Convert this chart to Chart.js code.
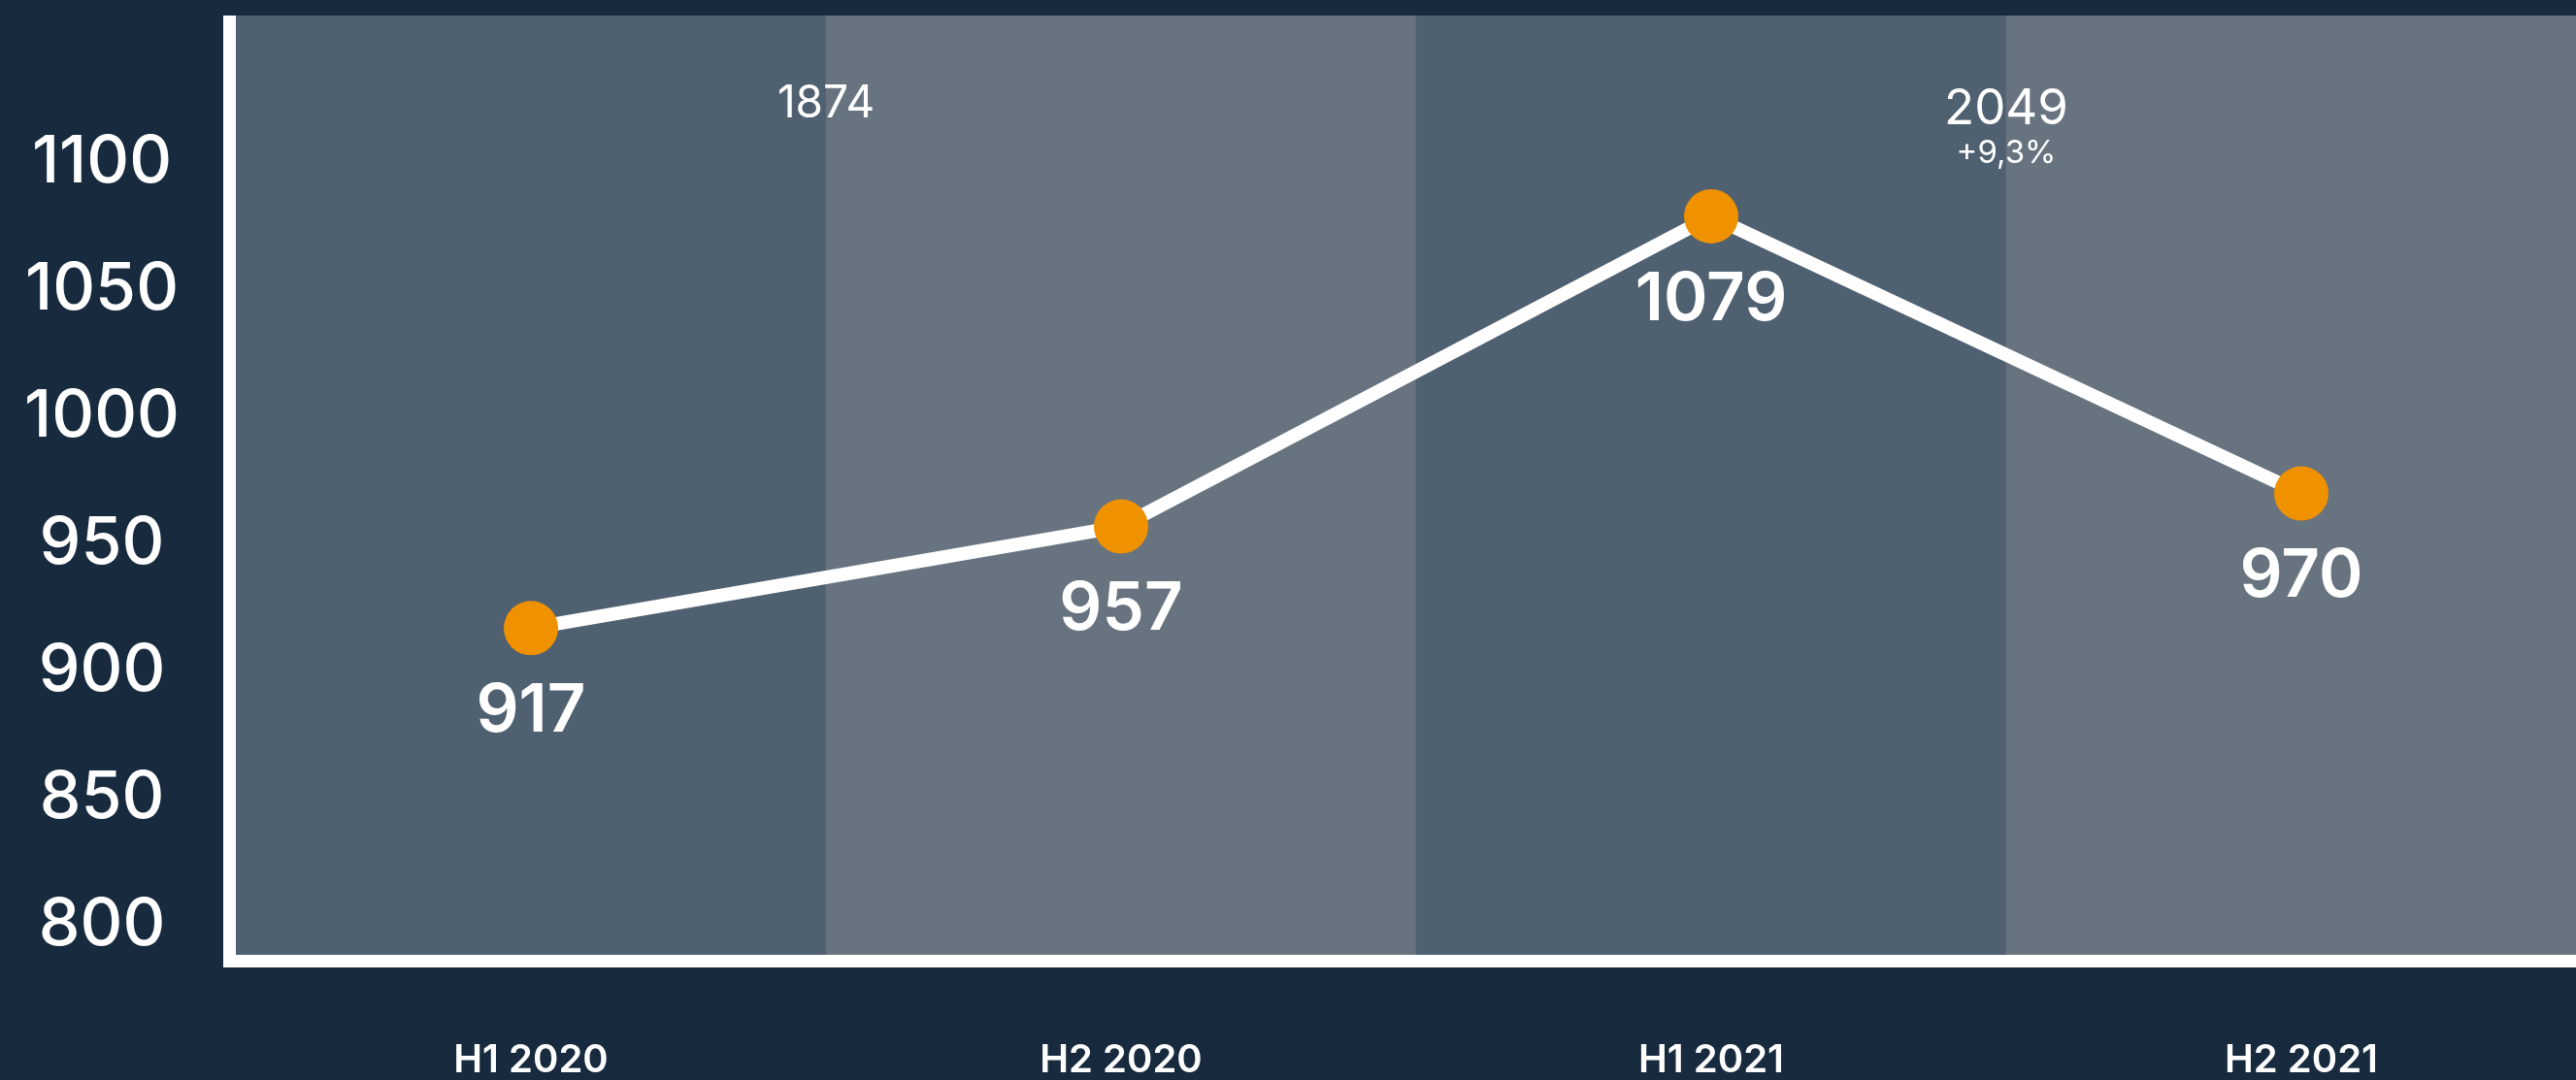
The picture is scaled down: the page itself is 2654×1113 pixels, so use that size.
<!DOCTYPE html>
<html>
<head>
<meta charset="utf-8">
<script src="https://cdn.jsdelivr.net/npm/chart.js@4/dist/chart.umd.min.js"></script>
<style>
  html, body { margin: 0; padding: 0; background: #172a3e; width: 2654px; height: 1113px; overflow: hidden; }
  canvas { display: block; }
</style>
</head>
<body>
<canvas id="c" width="2675" height="1113"></canvas>
<script>
// ---- data ----
const categories = ['H1 2020', 'H2 2020', 'H1 2021', 'H2 2021'];
const values = [917, 957, 1079, 970];
const yTicks = [800, 850, 900, 950, 1000, 1050, 1100];
const yearTotals = ['1874', '2049'];          // shown between the two halves of each year
const yearChanges = ['', '+9,3%'];

// ---- styles ----
const NAVY = '#172a3e';
const BAND_COLORS = ['#4f6070', '#67747f', '#4f6070', '#67747f'];
const ORANGE = '#f09100';
const FONT = 'Inter';
const Y_MIN = 788.5, Y_MAX = 1158;

const mctx = document.createElement('canvas').getContext('2d');
mctx.font = '500 68px ' + FONT;
const widest = Math.max(...yTicks.map(v => mctx.measureText(String(v)).width));
const yLabelCenter = 105, axisRight = 243;
const yPad = axisRight - yLabelCenter - widest / 2;

function noPad(s) { s.paddingTop = 0; s.paddingBottom = 0; s.paddingLeft = 0; s.paddingRight = 0; }

const overlay = {
  id: 'overlay',
  afterDatasetsDraw(chart) {
    const ctx = chart.ctx;
    const a = chart.chartArea;
    const xs = chart.scales.x;
    ctx.save();
    // axis lines (outside the plot area)
    ctx.fillStyle = '#ffffff';
    ctx.fillRect(a.left - 13, a.top, 13, a.bottom + 13 - a.top);
    ctx.fillRect(a.left - 13, a.bottom, a.right - a.left + 13, 13);
    // value labels under the points
    const meta = chart.getDatasetMeta(1);
    ctx.textAlign = 'center';
    ctx.textBaseline = 'middle';
    ctx.font = '600 69px ' + FONT;
    meta.data.forEach((pt, i) => {
      ctx.fillText(String(values[i]), pt.x, pt.y + 86);
    });
    // yearly totals between halves
    yearTotals.forEach((t, k) => {
      const x = xs.getPixelForValue(k * 2 + 0.5);
      if (yearChanges[k]) {
        ctx.font = '400 51px ' + FONT;
        ctx.fillText(t, x, a.top + 97);
        ctx.font = '400 33px ' + FONT;
        ctx.fillText(yearChanges[k], x, a.top + 142);
      } else {
        ctx.font = '400 46px ' + FONT;
        ctx.fillText(t, x, a.top + 91);
      }
    });
    ctx.restore();
  }
};

new Chart(document.getElementById('c'), {
  type: 'bar',
  data: {
    labels: categories,
    datasets: [
      {
        type: 'bar',
        data: categories.map(() => [Y_MIN, Y_MAX]),
        backgroundColor: BAND_COLORS,
        borderWidth: 0,
        barPercentage: 1,
        categoryPercentage: 1,
        order: 2
      },
      {
        type: 'line',
        data: values,
        borderColor: '#ffffff',
        borderWidth: 14,
        tension: 0,
        pointRadius: 28,
        pointHoverRadius: 28,
        pointBackgroundColor: ORANGE,
        pointBorderWidth: 0,
        clip: false,
        order: 1
      }
    ]
  },
  options: {
    responsive: false,
    animation: false,
    events: [],
    devicePixelRatio: 1,
    layout: { autoPadding: false, padding: { top: 16, left: 0, right: 0, bottom: 0 } },
    plugins: { legend: { display: false }, tooltip: { enabled: false } },
    scales: {
      x: {
        offset: true,
        grid: { display: false, drawTicks: false },
        border: { display: false },
        ticks: {
          color: '#ffffff',
          font: { family: FONT, size: 40, weight: '600' },
          padding: 85,
          maxRotation: 0,
          autoSkip: false
        },
        afterFit(s) { s.height = 129; noPad(s); }
      },
      y: {
        min: Y_MIN,
        max: Y_MAX,
        grid: { display: false, drawTicks: false },
        border: { display: false },
        ticks: {
          color: '#ffffff',
          font: { family: FONT, size: 68, weight: '500' },
          crossAlign: 'center',
          padding: yPad,
          callback: (v) => String(v)
        },
        afterBuildTicks(s) { s.ticks = yTicks.map(v => ({ value: v })); },
        afterFit(s) { s.width = axisRight; noPad(s); }
      }
    }
  },
  plugins: [overlay]
});
</script>
</body>
</html>
